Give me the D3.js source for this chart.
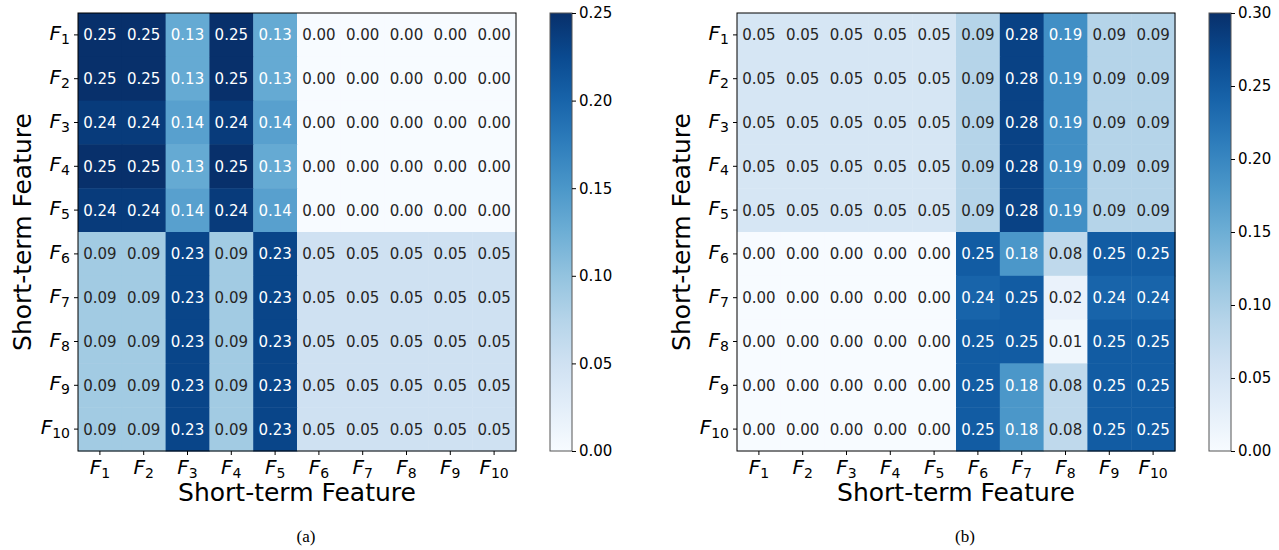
<!DOCTYPE html>
<html>
<head>
<meta charset="utf-8">
<script src="https://cdn.jsdelivr.net/npm/d3@7"></script>
<style>
  body { margin: 0; background: #fff; }
  text { font-family: "DejaVu Sans", sans-serif; }
</style>
</head>
<body>
<div id="chart-area"></div>
<script>
// feature labels F1..F10
var features = ["1","2","3","4","5","6","7","8","9","10"]

// panel (a) values
var rowA1 = [0.25,0.25,0.13,0.25,0.13,0.00,0.00,0.00,0.00,0.00]
var rowA3 = [0.24,0.24,0.14,0.24,0.14,0.00,0.00,0.00,0.00,0.00]
var rowA6 = [0.09,0.09,0.23,0.09,0.23,0.05,0.05,0.05,0.05,0.05]
var matrixA = [rowA1, rowA1, rowA3, rowA1, rowA3, rowA6, rowA6, rowA6, rowA6, rowA6]

// panel (b) values
var rowB1 = [0.05,0.05,0.05,0.05,0.05,0.09,0.28,0.19,0.09,0.09]
var rowB6 = [0.00,0.00,0.00,0.00,0.00,0.25,0.18,0.08,0.25,0.25]
var rowB7 = [0.00,0.00,0.00,0.00,0.00,0.24,0.25,0.02,0.24,0.24]
var rowB8 = [0.00,0.00,0.00,0.00,0.00,0.25,0.25,0.01,0.25,0.25]
var matrixB = [rowB1, rowB1, rowB1, rowB1, rowB1, rowB6, rowB7, rowB8, rowB6, rowB6]

var ticksA = [0, 0.05, 0.10, 0.15, 0.20, 0.25]
var ticksB = [0, 0.05, 0.10, 0.15, 0.20, 0.25, 0.30]

var svg = d3.select("#chart-area").append("svg")
    .attr("width", 1279)
    .attr("height", 550)

function drawPanel(left, matrix, vmax, ticks, caption) {
  var size = 438
  var top = 13
  var g = svg.append("g")
    .attr("transform", "translate(" + left + "," + top + ")")

  var x = d3.scaleBand().domain(features).range([0, size])
  var y = d3.scaleBand().domain(features).range([0, size])
  var color = d3.scaleSequential(d3.interpolateBlues).domain([0, vmax])

  var cells = []
  matrix.forEach((row, i) => {
    row.forEach((v, j) => {
      cells.push({r: features[i], c: features[j], v: v})
    })
  })

  g.selectAll("rect.cell")
    .data(cells)
    .enter().append("rect")
      .attr("class", "cell")
      .attr("x", d => x(d.c))
      .attr("y", d => y(d.r))
      .attr("width", x.bandwidth() + 0.5)
      .attr("height", y.bandwidth() + 0.5)
      .attr("fill", d => color(d.v))

  g.selectAll("text.ann")
    .data(cells)
    .enter().append("text")
      .attr("class", "ann")
      .attr("x", d => x(d.c) + x.bandwidth() / 2)
      .attr("y", d => y(d.r) + y.bandwidth() / 2)
      .attr("dy", "0.36em")
      .attr("text-anchor", "middle")
      .style("font-size", "15px")
      .attr("fill", d => d.v / vmax > 0.45 ? "#ffffff" : "#262626")
      .text(d => d.v.toFixed(2))

  // frame
  g.append("rect")
    .attr("width", size).attr("height", size)
    .attr("fill", "none").attr("stroke", "#000").attr("stroke-width", 1)

  // axes with F_i labels
  var xAxis = g.append("g").attr("transform", "translate(0," + size + ")")
    .call(d3.axisBottom(x).tickSize(4).tickFormat(""))
  var yAxis = g.append("g")
    .call(d3.axisLeft(y).tickSize(4).tickFormat(""))
  xAxis.select(".domain").remove()
  yAxis.select(".domain").remove()

  function fLabel(sel) {
    sel.append("tspan").style("font-style", "italic").style("font-size", "20px").text("F")
    sel.append("tspan").style("font-size", "14px").attr("dy", 4).text(d => d)
  }

  g.selectAll("text.xt")
    .data(features)
    .enter().append("text")
      .attr("class", "xt")
      .attr("x", d => x(d) + x.bandwidth() / 2)
      .attr("y", size + 23)
      .attr("text-anchor", "middle")
      .call(fLabel)

  g.selectAll("text.yt")
    .data(features)
    .enter().append("text")
      .attr("class", "yt")
      .attr("x", -8)
      .attr("y", d => y(d) + y.bandwidth() / 2 + 5)
      .attr("text-anchor", "end")
      .call(fLabel)

  g.append("text")
    .attr("x", size / 2)
    .attr("y", size + 50)
    .attr("text-anchor", "middle")
    .style("font-size", "25px")
    .text("Short-term Feature")

  g.append("text")
    .attr("transform", "translate(" + (-47) + "," + (size / 2) + ") rotate(-90)")
    .attr("text-anchor", "middle")
    .style("font-size", "25px")
    .text("Short-term Feature")

  g.append("text")
    .attr("x", size / 2 + 9)
    .attr("y", 529)
    .attr("text-anchor", "middle")
    .style("font-family", "'Liberation Serif', 'DejaVu Serif', serif")
    .style("font-size", "17px")
    .text(caption)

  // colorbar
  var cbX = size + 34
  var cbW = 22
  var cbScale = d3.scaleLinear().domain([0, vmax]).range([size, 0])
  var gradId = "grad" + caption.replace(/\W/g, "")
  var grad = svg.append("defs").append("linearGradient")
    .attr("id", gradId).attr("x1", 0).attr("y1", 1).attr("x2", 0).attr("y2", 0)
  d3.range(0, 1.0001, 0.1).forEach(t => {
    grad.append("stop").attr("offset", t).attr("stop-color", d3.interpolateBlues(t))
  })
  var cb = g.append("g").attr("transform", "translate(" + cbX + ",0)")
  cb.append("rect")
    .attr("width", cbW).attr("height", size)
    .attr("fill", "url(#" + gradId + ")")
    .attr("stroke", "#555").attr("stroke-width", 1)
  var cbAxis = cb.append("g").attr("transform", "translate(" + cbW + ",0)")
    .call(d3.axisRight(cbScale).tickValues(ticks).tickSize(4).tickFormat(d3.format(".2f")))
  cbAxis.select(".domain").remove()
  cbAxis.selectAll("text").style("font-size", "15px").attr("x", 7).attr("fill", "#000")
}

drawPanel(78, matrixA, 0.25, ticksA, "(a)")
drawPanel(737, matrixB, 0.30, ticksB, "(b)")
</script>
</body>
</html>
